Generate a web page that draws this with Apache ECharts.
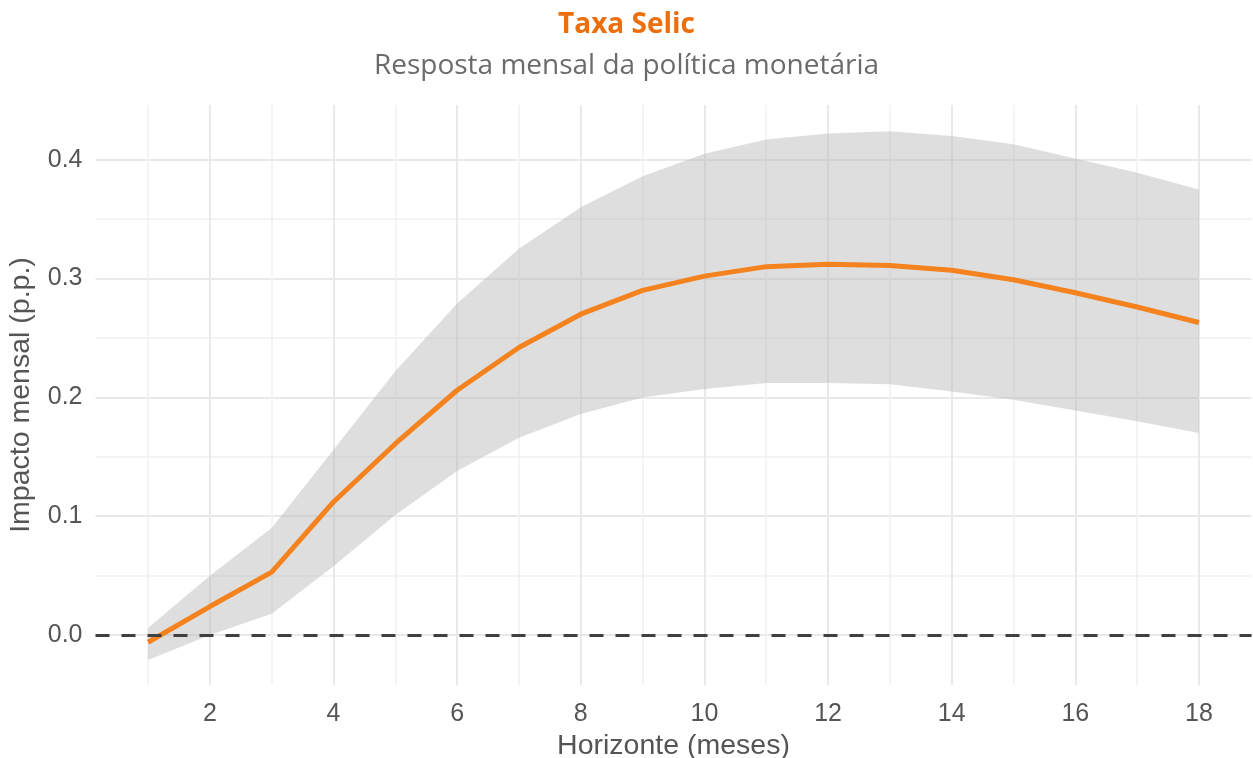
<!DOCTYPE html>
<html>
<head>
<meta charset="utf-8">
<title>Taxa Selic</title>
<script src="https://cdn.jsdelivr.net/npm/echarts@6/dist/echarts.min.js"></script>
<style>
  html, body { margin: 0; padding: 0; background: #fff; }
  #chart { width: 1253px; height: 758px; }
</style>
</head>
<body>
<div id="chart"></div>
<script>
// horizonte em meses
var months = [1, 2, 3, 4, 5, 6, 7, 8, 9, 10, 11, 12, 13, 14, 15, 16, 17, 18];
// resposta media (p.p.)
var irf = [-0.006, 0.024, 0.053, 0.112, 0.161, 0.206, 0.242, 0.270, 0.290, 0.302, 0.310, 0.312, 0.311, 0.307, 0.299, 0.288, 0.276, 0.263];
// intervalo de confianca
var lower = [-0.021, 0.000, 0.018, 0.058, 0.101, 0.138, 0.166, 0.186, 0.200, 0.207, 0.212, 0.212, 0.211, 0.205, 0.198, 0.189, 0.180, 0.170];
var upper = [0.006, 0.050, 0.090, 0.156, 0.222, 0.279, 0.325, 0.360, 0.386, 0.405, 0.417, 0.422, 0.424, 0.420, 0.413, 0.401, 0.389, 0.375];

var axisFont = "'Liberation Sans', Arial, sans-serif";
var titleFont = "'Open Sans', 'Noto Sans', sans-serif";

var chart = echarts.init(document.getElementById("chart"));

var lineData = [];
for (var i = 0; i < months.length; i++) {
	lineData.push([months[i], irf[i]]);
}

var option = {
	animation: false,
	title: [
		{
			text: "Taxa Selic",
			left: "center",
			top: 6,
			textStyle: { color: "#EC6F0E", fontFamily: titleFont, fontWeight: "bold", fontSize: 28 }
		},
		{
			text: "Resposta mensal da política monetária",
			left: "center",
			top: 47,
			textStyle: { color: "#6b6b6b", fontFamily: titleFont, fontWeight: "normal", fontSize: 28 }
		}
	],
	grid: {
		left: 95.5,
		right: 1.5,
		top: 105,
		bottom: 73,
		containLabel: false,
		outerBoundsMode: "none"
	},
	xAxis: {
		type: "value",
		min: 0.15,
		max: 18.85,
		splitNumber: 9,
		name: "Horizonte (meses)",
		nameLocation: "middle",
		nameGap: 46,
		nameTextStyle: { color: "#555", fontFamily: axisFont, fontSize: 28.5 },
		axisLine: { show: false },
		axisTick: { show: false },
		axisLabel: {
			color: "#555",
			fontFamily: axisFont,
			fontSize: 25,
			margin: 17,
			showMinLabel: false,
			showMaxLabel: false,
			formatter: function (v) { return String(Math.round(v)); }
		},
		splitLine: { show: true, showMinLine: false, showMaxLine: false, lineStyle: { color: "#e9e9e9", width: 2 } },
		minorTick: { show: false, splitNumber: 2 },
		minorSplitLine: { show: true, lineStyle: { color: "#f1f1f1", width: 1.5 } }
	},
	yAxis: {
		type: "value",
		min: -0.042,
		max: 0.446,
		splitNumber: 5,
		name: "Impacto mensal (p.p.)",
		nameLocation: "middle",
		nameGap: 60,
		nameTextStyle: { color: "#555", fontFamily: axisFont, fontSize: 28.5 },
		axisLine: { show: false },
		axisTick: { show: false },
		axisLabel: {
			color: "#555",
			fontFamily: axisFont,
			fontSize: 25,
			margin: 13,
			showMinLabel: false,
			showMaxLabel: false,
			formatter: function (v) { return Math.abs(v) < 1e-9 ? "0.0" : v.toFixed(1); }
		},
		splitLine: { show: true, showMinLine: false, showMaxLine: false, lineStyle: { color: "#e9e9e9", width: 2 } },
		minorTick: { show: false, splitNumber: 2 },
		minorSplitLine: { show: true, lineStyle: { color: "#f1f1f1", width: 1.5 } }
	},
	series: [
		{
			// faixa de confianca
			type: "custom",
			data: [0],
			silent: true,
			z: 1,
			renderItem: function (params, api) {
				var pts = [];
				for (var i = 0; i < months.length; i++) {
					pts.push(api.coord([months[i], upper[i]]));
				}
				for (var j = months.length - 1; j >= 0; j--) {
					pts.push(api.coord([months[j], lower[j]]));
				}
				return {
					type: "polygon",
					shape: { points: pts },
					style: { fill: "rgba(185,185,185,0.48)" }
				};
			}
		},
		{
			type: "line",
			data: lineData,
			symbol: "none",
			z: 3,
			lineStyle: { color: "#F4831F", width: 5 },
			markLine: {
				silent: true,
				symbol: "none",
				label: { show: false },
				lineStyle: { color: "#404040", width: 3, type: [14, 12] },
				data: [{ yAxis: 0 }]
			}
		}
	]
};

chart.setOption(option);
</script>
</body>
</html>
